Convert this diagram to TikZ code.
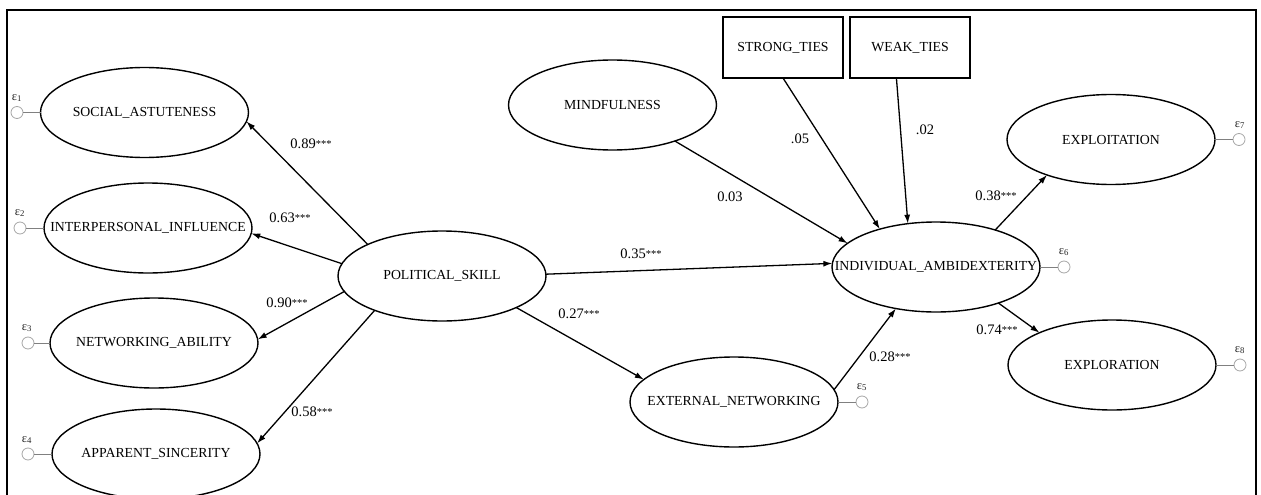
\documentclass[tikz,border=0pt]{standalone}
\usepackage{fontspec}
\setmainfont{Liberation Serif}
\usetikzlibrary{arrows.meta,shapes.geometric}
\newcommand{\stars}{\raisebox{1.5pt}{\fontsize{10.5}{10}\selectfont ***}}
\begin{document}
\begin{tikzpicture}[x=1pt,y=-1pt,
 lat/.style={draw, ellipse, line width=1.4pt, minimum width=208pt, minimum height=90pt, inner sep=0pt, outer sep=0pt, font=\fontsize{13.8}{16}\selectfont},
 obs/.style={draw, rectangle, line width=1.4pt, minimum width=120pt, minimum height=61pt, inner sep=0pt, outer sep=0pt, font=\fontsize{13.8}{16}\selectfont},
 errc/.style={draw=gray!70, circle, minimum size=12pt, inner sep=0pt, outer sep=0pt, line width=0.8pt},
 errl/.style={draw=gray, line width=0.9pt},
 arr/.style={line width=1.3pt, -{Latex[length=9pt,width=6pt]}},
 coef/.style={font=\fontsize{14.5}{16}\selectfont, inner sep=0pt},
 elab/.style={font=\fontsize{12.5}{12}\selectfont, inner sep=0pt, text=black!85}]
\useasboundingbox (0,0) rectangle (1261,495);
\clip (0,0) rectangle (1261,495);
\draw[line width=2pt] (7,10) rectangle (1256,540);

% latent variables
\node[lat] (soc) at (144.5,112.5) {\makebox[0pt]{SOCIAL\_ASTUTENESS}};
\node[lat] (int) at (148,228) {\makebox[0pt]{INTERPERSONAL\_INFLUENCE}};
\node[lat] (net) at (154,343) {\makebox[0pt]{NETWORKING\_ABILITY}};
\node[lat] (app) at (156,454) {\makebox[0pt]{APPARENT\_SINCERITY}};
\node[lat] (ps) at (442,276) {\makebox[0pt]{POLITICAL\_SKILL}};
\node[lat] (mind) at (612.5,105) {\makebox[0pt]{MINDFULNESS}};
\node[lat] (ext) at (734,402) {\makebox[0pt]{EXTERNAL\_NETWORKING}};
\node[lat] (ia) at (936,267) {\makebox[0pt]{INDIVIDUAL\_AMBIDEXTERITY}};
\node[lat] (expt) at (1111,139.5) {\makebox[0pt]{EXPLOITATION}};
\node[lat] (expr) at (1112,365) {\makebox[0pt]{EXPLORATION}};

% observed
\node[obs] (strong) at (783,47.5) {STRONG\_TIES};
\node[obs] (weak) at (910,47.5) {WEAK\_TIES};

% error terms
\node[errc] (e1) at (17,112.5) {};
\node[errc] (e2) at (20,228) {};
\node[errc] (e3) at (28,343) {};
\node[errc] (e4) at (28,454) {};
\node[errc] (e5) at (862,402) {};
\node[errc] (e6) at (1064,267) {};
\node[errc] (e7) at (1239,139.5) {};
\node[errc] (e8) at (1240,365) {};
\draw[errl] (e1) -- (soc);
\draw[errl] (e2) -- (int);
\draw[errl] (e3) -- (net);
\draw[errl] (e4) -- (app);
\draw[errl] (e5) -- (ext);
\draw[errl] (e6) -- (ia);
\draw[errl] (e7) -- (expt);
\draw[errl] (e8) -- (expr);
\node[elab] (l1) at (17,98) {ε\textsubscript{1}};
\node[elab] (l2) at (20,213) {ε\textsubscript{2}};
\node[elab] (l3) at (27,328) {ε\textsubscript{3}};
\node[elab] (l4) at (27,440) {ε\textsubscript{4}};
\node[elab] (l5) at (862,387) {ε\textsubscript{5}};
\node[elab] (l6) at (1064,252) {ε\textsubscript{6}};
\node[elab] (l7) at (1240,125) {ε\textsubscript{7}};
\node[elab] (l8) at (1240,350) {ε\textsubscript{8}};

% paths
\draw[arr] (ps.157.6) -- (soc.-5);
\draw[arr] (ps.173.8) -- (int.-3.9);
\draw[arr] (ps.189.2) -- (net.2.2);
\draw[arr] (ps.207.6) -- (app.6.8);
\draw[arr] (ps.1.7) -- (ia.178.9);
\draw[arr] (ps.-23.7) -- (ext.166.8);
\draw[arr] (mind.-30) -- (ia.165.2);
\draw[arr] (strong.south) -- (ia.146.5);
\draw[arr] (weak.246.9) -- (ia.123.7);
\draw[arr] (ia.32.2) -- (expt.209.9);
\draw[arr] (ia.-30.5) -- (expr.156.9);
\draw[arr] (ext.7.9) -- (ia.226.4);

% coefficients
\node[coef] (c1) at (311,144) {0.89\stars};
\node[coef] (c2) at (290,218) {0.63\stars};
\node[coef] (c3) at (287,303) {0.90\stars};
\node[coef] (c4) at (312,412) {0.58\stars};
\node[coef] (c5) at (641,254) {0.35\stars};
\node[coef] (c6) at (579,314) {0.27\stars};
\node[coef] (c7) at (730,197) {0.03};
\node[coef] (c8) at (800,139) {.05};
\node[coef] (c9) at (925,130) {.02};
\node[coef] (c10) at (996,196) {0.38\stars};
\node[coef] (c11) at (997,330) {0.74\stars};
\node[coef] (c12) at (890,357) {0.28\stars};
\end{tikzpicture}
\end{document}
